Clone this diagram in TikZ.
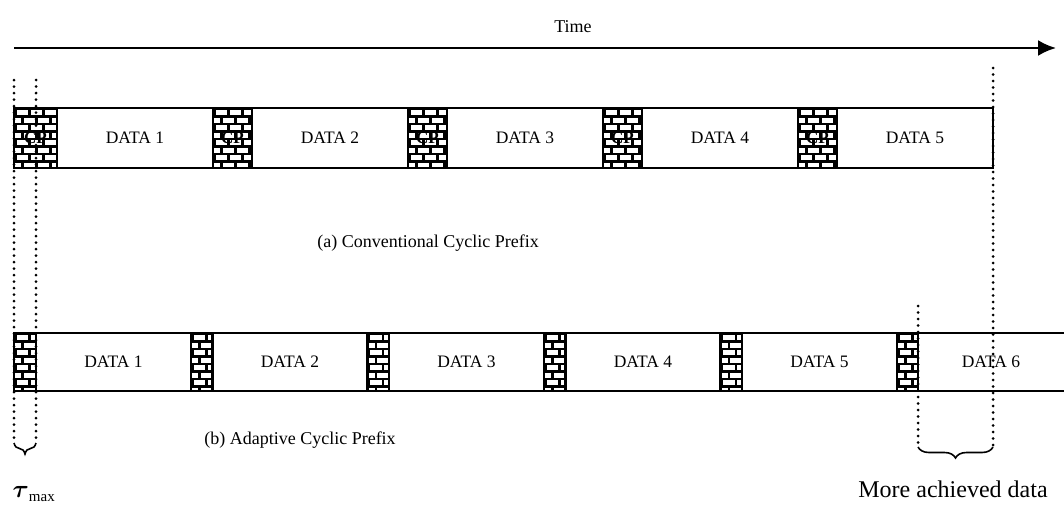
\documentclass[tikz,border=0pt]{standalone}
\usepackage{amsmath}
\usepackage{fontspec}
\setmainfont{Liberation Serif}
\usetikzlibrary{positioning,arrows.meta,decorations.pathreplacing,calc}

\tikzset{
  bricks/.style={path picture={
    \fill[black] (path picture bounding box.north west) rectangle (path picture bounding box.south east);
    \foreach \r [evaluate=\r as \off using {mod(\r,2)*7}] in {0,...,8}
      \foreach \c in {-1,...,4}
        \fill[white] ($(path picture bounding box.north west)+(\c*14+\off+2.5,\r*7.5+2)$) rectangle ++(11.5,5.2);
  }}
}

\begin{document}
\begin{tikzpicture}[x=1pt, y=-1pt, node distance=0pt,
    databox/.style={draw, line width=1.6pt, inner sep=0pt, outer sep=0pt, minimum width=156pt, font=\fontsize{17.5}{19}\selectfont},
    cpbox/.style={draw, line width=2.2pt, inner sep=0pt, outer sep=0pt, bricks, font=\bfseries\fontsize{17}{18}\selectfont},
    rowa/.style={minimum height=60pt},
    rowb/.style={minimum height=58pt},
    dots/.style={line width=3pt, dash pattern=on 0pt off 6.5pt, line cap=round},
    brace/.style={decorate, decoration={brace, mirror, amplitude=11pt}, line width=1.6pt},
    label/.style={font=\fontsize{18}{20}\selectfont}]
  \useasboundingbox (0,0) rectangle (1064,511);

  % time axis
  \coordinate (T0) at (14,48);
  \coordinate (T1) at (1056,48);
  \draw[line width=2.4pt, -{Latex[length=18pt,width=16pt]}] (T0) -- (T1);
  \node [label] (time) at (573,27) {Time};

  % (a) conventional cyclic prefix
  \node [cpbox, rowa, minimum width=43pt, anchor=west] (CPa1) at (14,138) {CP};
  \node [databox, rowa] (Da1) [right=of CPa1] {DATA 1};
  \node [cpbox, rowa, minimum width=39pt] (CPa2) [right=of Da1] {CP};
  \node [databox, rowa] (Da2) [right=of CPa2] {DATA 2};
  \node [cpbox, rowa, minimum width=39pt] (CPa3) [right=of Da2] {CP};
  \node [databox, rowa] (Da3) [right=of CPa3] {DATA 3};
  \node [cpbox, rowa, minimum width=39pt] (CPa4) [right=of Da3] {CP};
  \node [databox, rowa] (Da4) [right=of CPa4] {DATA 4};
  \node [cpbox, rowa, minimum width=39pt] (CPa5) [right=of Da4] {CP};
  \node [databox, rowa] (Da5) [right=of CPa5] {DATA 5};
  \node [label] (capa) at (428,243) {(a) Conventional Cyclic Prefix};

  % (b) adaptive cyclic prefix
  \node [cpbox, rowb, minimum width=22pt, anchor=west] (CPb1) at (14,362) {};
  \node [databox, rowb, minimum width=155pt] (Db1) [right=of CPb1] {DATA 1};
  \node [cpbox, rowb, minimum width=21.5pt] (CPb2) [right=of Db1] {};
  \node [databox, rowb, minimum width=155pt] (Db2) [right=of CPb2] {DATA 2};
  \node [cpbox, rowb, minimum width=21.5pt] (CPb3) [right=of Db2] {};
  \node [databox, rowb, minimum width=155pt] (Db3) [right=of CPb3] {DATA 3};
  \node [cpbox, rowb, minimum width=21.5pt] (CPb4) [right=of Db3] {};
  \node [databox, rowb, minimum width=155pt] (Db4) [right=of CPb4] {DATA 4};
  \node [cpbox, rowb, minimum width=21.5pt] (CPb5) [right=of Db4] {};
  \node [databox, rowb, minimum width=155pt] (Db5) [right=of CPb5] {DATA 5};
  \node [cpbox, rowb, minimum width=21pt] (CPb6) [right=of Db5] {};
  \node [databox, rowb, draw=none, minimum width=146pt] (Db6) [right=of CPb6] {DATA 6};
  \draw[line width=1.6pt] (Db6.north west) -- (Db6.north east);
  \draw[line width=1.6pt] (Db6.south west) -- (Db6.south east);
  \node [label] (capb) at (300,440) {(b) Adaptive Cyclic Prefix};

  % guide lines
  \coordinate (G1a) at (14,80);   \coordinate (G1b) at (14,443);
  \coordinate (G2a) at (36,80);   \coordinate (G2b) at (36,443);
  \coordinate (G3a) at (918,306); \coordinate (G3b) at (918,447);
  \coordinate (G4a) at (993,68);  \coordinate (G4b) at (993,447);
  \draw[dots] (G1a) -- (G1b);
  \draw[dots] (G2a) -- (G2b);
  \draw[dots] (G3a) -- (G3b);
  \draw[dots] (G4a) -- (G4b);

  % braces
  \draw[brace] (G1b) -- (G2b);
  \draw[brace] (G3b) -- (G4b);
  \node (tau) at (34,494) {\fontsize{30}{32}\selectfont$\boldsymbol{\tau}_{\text{\fontsize{15}{16}\selectfont max}}$};
  \node [font=\fontsize{24}{26}\selectfont] (more) at (953,489) {More achieved data};
\end{tikzpicture}
\end{document}
